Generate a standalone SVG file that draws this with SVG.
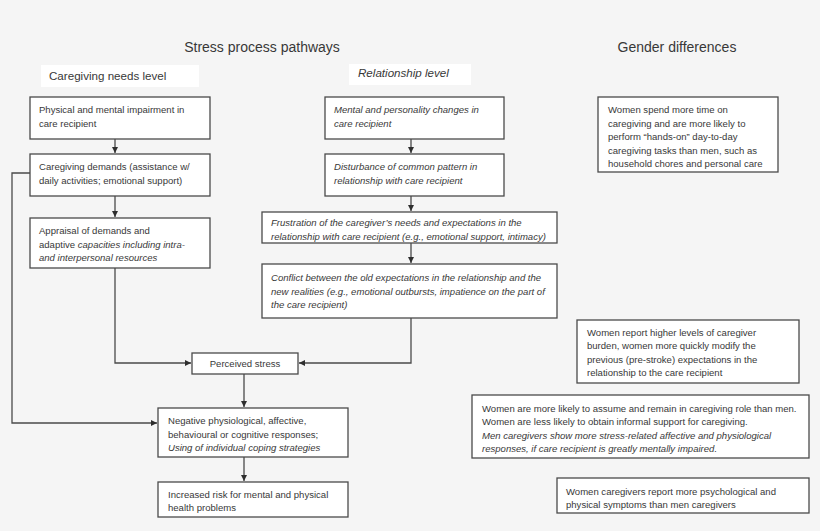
<svg xmlns="http://www.w3.org/2000/svg" width="820" height="531" viewBox="0 0 820 531">
<style>
text{font-family:"Liberation Sans",Arial,sans-serif;fill:#383838}
.t{font-size:9.55px}
.h{font-size:14px}
.lv{font-size:11.6px}
.i{font-style:italic}
.box{fill:#fff;stroke:#4a4a4a;stroke-width:1.3}
.lab{fill:#fff}
.c{fill:none;stroke:#4a4a4a;stroke-width:1.3}
</style>
<defs>
<marker id="ah" markerUnits="userSpaceOnUse" markerWidth="7" markerHeight="6" refX="6" refY="3" orient="auto">
<path d="M0,0 L6,3 L0,6 z" fill="#2e2e2e"/>
</marker>
</defs>
<rect width="820" height="531" fill="#f5f5f5"/>
<text class="h" x="262" y="52" text-anchor="middle">Stress process pathways</text>
<text class="h" x="677" y="52" text-anchor="middle">Gender differences</text>
<g id="lbl-caregiving">
<rect class="lab" x="41" y="65" width="158" height="22"/>
<text class="lv" x="49" y="80">Caregiving needs level</text>
</g>
<g id="lbl-relationship">
<rect class="lab" x="349" y="64" width="122" height="21"/>
<text class="lv i" x="358" y="77">Relationship level</text>
</g>
<g id="connectors">
<path class="c" d="M115,139 V153" marker-end="url(#ah)"/>
<path class="c" d="M115,196 V217" marker-end="url(#ah)"/>
<path class="c" d="M115,268 V363 H191" marker-end="url(#ah)"/>
<path class="c" d="M411,139 V153" marker-end="url(#ah)"/>
<path class="c" d="M411,196 V211" marker-end="url(#ah)"/>
<path class="c" d="M411,243 V263" marker-end="url(#ah)"/>
<path class="c" d="M411,318 V363 H299" marker-end="url(#ah)"/>
<path class="c" d="M30,173 H12 V423 H157" marker-end="url(#ah)"/>
<path class="c" d="M244,374 V407" marker-end="url(#ah)"/>
<path class="c" d="M244,457 V481" marker-end="url(#ah)"/>
</g>
<g id="n-impairment">
<rect class="box" x="30" y="97" width="180" height="42"/>
<text class="t" x="39" y="113">Physical and mental impairment in</text>
<text class="t" x="39" y="126.5">care recipient</text>
</g>
<g id="n-demands">
<rect class="box" x="30" y="154" width="180" height="42"/>
<text class="t" x="39" y="170">Caregiving demands (assistance w/</text>
<text class="t" x="39" y="183.5">daily activities; emotional support)</text>
</g>
<g id="n-appraisal">
<rect class="box" x="30" y="218" width="180" height="50"/>
<text class="t" x="39" y="234">Appraisal of demands and</text>
<text class="t" x="39" y="247.5">adaptive <tspan class="i">capacities including intra-</tspan></text>
<text class="t i" x="39" y="261">and interpersonal resources</text>
</g>
<g id="n-perceived">
<rect class="box" x="192" y="353" width="106" height="21"/>
<text class="t" x="245" y="367" text-anchor="middle">Perceived stress</text>
</g>
<g id="n-negative">
<rect class="box" x="158" y="408" width="190" height="49"/>
<text class="t" x="168" y="424">Negative physiological, affective,</text>
<text class="t" x="168" y="437.5">behavioural or cognitive responses;</text>
<text class="t i" x="168" y="451">Using of individual coping strategies</text>
</g>
<g id="n-risk">
<rect class="box" x="158" y="482" width="190" height="35"/>
<text class="t" x="168" y="497.5">Increased risk for mental and physical</text>
<text class="t" x="168" y="511">health problems</text>
</g>
<g id="n-personality">
<rect class="box" x="325" y="97" width="179" height="42"/>
<text class="t i" x="334" y="113">Mental and personality changes in</text>
<text class="t i" x="334" y="126.5">care recipient</text>
</g>
<g id="n-disturbance">
<rect class="box" x="325" y="154" width="179" height="42"/>
<text class="t i" x="334" y="170">Disturbance of common pattern in</text>
<text class="t i" x="334" y="183.5">relationship with care recipient</text>
</g>
<g id="n-frustration">
<rect class="box" x="262" y="212" width="295" height="31"/>
<text class="t i" x="271" y="226">Frustration of the caregiver’s needs and expectations in the</text>
<text class="t i" x="271" y="239.5">relationship with care recipient (e.g., emotional support, intimacy)</text>
</g>
<g id="n-conflict">
<rect class="box" x="262" y="264" width="295" height="54"/>
<text class="t i" x="271" y="281">Conflict between the old expectations in the relationship and the</text>
<text class="t i" x="271" y="294.5">new realities (e.g., emotional outbursts, impatience on the part of</text>
<text class="t i" x="271" y="308">the care recipient)</text>
</g>
<g id="g-time">
<rect class="box" x="598" y="97" width="180" height="75"/>
<text class="t" x="608" y="113">Women spend more time on</text>
<text class="t" x="608" y="126.5">caregiving and are more likely to</text>
<text class="t" x="608" y="140">perform “hands-on” day-to-day</text>
<text class="t" x="608" y="153.5">caregiving tasks than men, such as</text>
<text class="t" x="608" y="167">household chores and personal care</text>
</g>
<g id="g-burden">
<rect class="box" x="577" y="320" width="222" height="63"/>
<text class="t" x="587" y="335.5">Women report higher levels of caregiver</text>
<text class="t" x="587" y="349">burden, women more quickly modify the</text>
<text class="t" x="587" y="362.5">previous (pre-stroke) expectations in the</text>
<text class="t" x="587" y="376">relationship to the care recipient</text>
</g>
<g id="g-role">
<rect class="box" x="472" y="395" width="337" height="63"/>
<text class="t" x="482" y="411.5">Women are more likely to assume and remain in caregiving role than men.</text>
<text class="t" x="482" y="425">Women are less likely to obtain informal support for caregiving.</text>
<text class="t i" x="482" y="438.5">Men caregivers show more stress-related affective and physiological</text>
<text class="t i" x="482" y="452">responses, if care recipient is greatly mentally impaired.</text>
</g>
<g id="g-symptoms">
<rect class="box" x="557" y="478" width="252" height="35"/>
<text class="t" x="566" y="495">Women caregivers report more psychological and</text>
<text class="t" x="566" y="508">physical symptoms than men caregivers</text>
</g>
</svg>
